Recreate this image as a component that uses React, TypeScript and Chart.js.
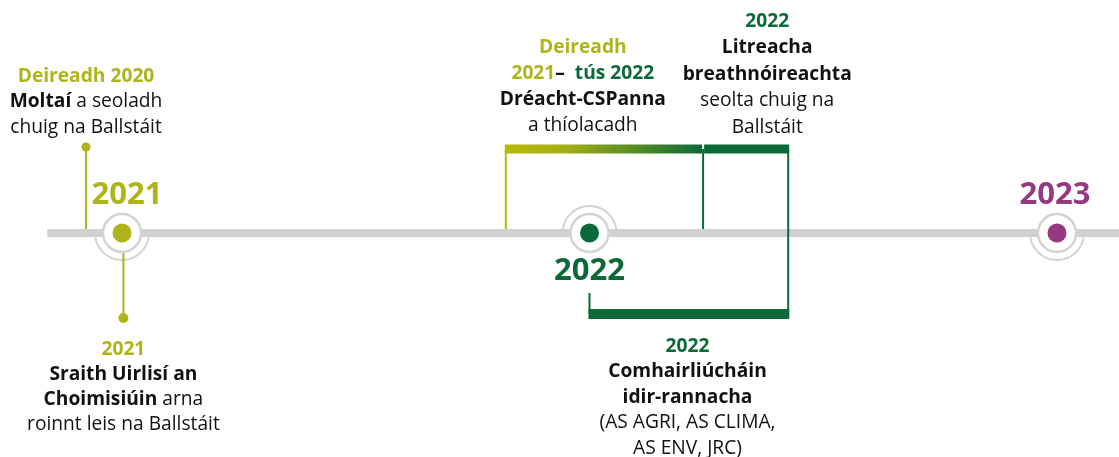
import React, { useEffect, useRef } from 'react';
import { Chart, registerables } from 'chart.js';

Chart.register(...registerables);

// ---------- colours ----------
const OLIVE = '#aeb51a';
const GREEN = '#0b6a37';
const PURPLE = '#963a80';
const GRAY = '#d1d1d1';
const RING = '#d3d3d3';
const INK = '#111111';
const FONT = '"Open Sans", "Noto Sans", sans-serif';

// ---------- data ----------
// milestones on the timeline (years)
const milestoneYears = [2021, 2022, 2023];
const milestoneLabels = ['2021', '2022', '2023'];
const milestoneColors = [OLIVE, GREEN, PURPLE];
const haloSides = ['below', 'above', 'below'];

// timeline extent (fractional years)
const timelineStart = 2020.84;
const timelineEnd = 2023.3;

// events (fractional years)
const recommendationsDate = 2020.923; // end of 2020
const toolkitDate = 2021.003; // 2021
const draftStart = 2021.821; // end of 2021
const draftEnd = 2022.243; // start of 2022
const lettersDate = 2022.425; // 2022
const consultStart = 2022.0; // 2022
const consultEnd = 2022.425;

type Seg = { t: string; b?: boolean; c?: string };
type Line = Seg[];

const noteRecommendations: Line[] = [
  [{ t: 'Deireadh 2020', b: true, c: OLIVE }],
  [{ t: 'Moltaí', b: true }, { t: ' a seoladh' }],
  [{ t: 'chuig na Ballstáit' }],
];
const noteToolkit: Line[] = [
  [{ t: '2021', b: true, c: OLIVE }],
  [{ t: 'Sraith Uirlisí an', b: true }],
  [{ t: 'Choimisiúin', b: true }, { t: ' arna' }],
  [{ t: 'roinnt leis na Ballstáit' }],
];
const noteDraft: Line[] = [
  [{ t: 'Deireadh', b: true, c: OLIVE }],
  [{ t: '2021', b: true, c: OLIVE }, { t: '–  ', b: true }, { t: 'tús 2022', b: true, c: GREEN }],
  [{ t: 'Dréacht-CSPanna', b: true }],
  [{ t: 'a thíolacadh' }],
];
const noteLetters: Line[] = [
  [{ t: '2022', b: true, c: GREEN }],
  [{ t: 'Litreacha', b: true }],
  [{ t: 'breathnóireachta', b: true }],
  [{ t: 'seolta chuig na' }],
  [{ t: 'Ballstáit' }],
];
const noteConsult: Line[] = [
  [{ t: '2022', b: true, c: GREEN }],
  [{ t: 'Comhairliúcháin', b: true }],
  [{ t: 'idir-rannacha', b: true }],
  [{ t: '(AS AGRI, AS CLIMA,' }],
  [{ t: 'AS ENV, JRC)' }],
];

// ---------- layout (pixel-style offsets) ----------
const PX_PER_YEAR = 467.5;
const X_MIN = 2021 - 122 / PX_PER_YEAR;
const X_MAX = X_MIN + 1119 / PX_PER_YEAR;
const px = (n: number) => n / PX_PER_YEAR; // pixel offset in year units

const notePlacements = [
  { x: recommendationsDate, y: 156.5, lh: 25.5, lines: noteRecommendations },
  { x: toolkitDate, y: -116.5, lh: 25, lines: noteToolkit },
  { x: draftStart + px(77), y: 185.5, lh: 26, lines: noteDraft },
  { x: lettersDate - px(21), y: 211.5, lh: 26.5, lines: noteLetters },
  { x: consultStart + px(98), y: -113.5, lh: 25.5, lines: noteConsult },
];
const yearLabelOffsets = [5, 0, -2];

function fontFor(s: Seg, size: number) {
  return `${s.b ? 'bold ' : ''}${size}px ${FONT}`;
}

const haloPlugin = {
  id: 'halos',
  beforeDatasetsDraw(chart: any) {
    const { ctx, scales } = chart;
    ctx.save();
    ctx.strokeStyle = RING;
    ctx.lineWidth = 2;
    milestoneYears.forEach((yr, i) => {
      const cx = scales.x.getPixelForValue(yr);
      const cy = scales.y.getPixelForValue(0);
      ctx.beginPath();
      if (haloSides[i] === 'below') ctx.arc(cx, cy, 27, 0, Math.PI, false);
      else ctx.arc(cx, cy, 27, Math.PI, 2 * Math.PI, false);
      ctx.stroke();
    });
    ctx.restore();
  },
};

const textPlugin = {
  id: 'notes',
  afterDatasetsDraw(chart: any) {
    const { ctx, scales } = chart;
    ctx.save();
    ctx.textBaseline = 'middle';
    ctx.textAlign = 'left';
    const size = 19.2;
    notePlacements.forEach((n) => {
      const cx = scales.x.getPixelForValue(n.x);
      const y0 = scales.y.getPixelForValue(n.y);
      n.lines.forEach((line, i) => {
        const py = y0 + i * n.lh;
        const widths = line.map((s) => {
          ctx.font = fontFor(s, size);
          return ctx.measureText(s.t).width;
        });
        const total = widths.reduce((a, b) => a + b, 0);
        let xx = cx - total / 2;
        line.forEach((s, j) => {
          ctx.font = fontFor(s, size);
          ctx.fillStyle = s.c || INK;
          ctx.fillText(s.t, xx, py);
          xx += widths[j];
        });
      });
    });
    // big year labels
    ctx.textAlign = 'center';
    ctx.font = `bold 31px ${FONT}`;
    milestoneYears.forEach((yr, i) => {
      const cx = scales.x.getPixelForValue(yr) + yearLabelOffsets[i];
      const cy = scales.y.getPixelForValue(haloSides[i] === 'below' ? 37.5 : -38.5);
      ctx.fillStyle = milestoneColors[i];
      ctx.fillText(milestoneLabels[i], cx, cy);
    });
    ctx.restore();
  },
};

function seg(points: { x: number; y: number }[], color: any, width: number, order: number, radius: number[] = [0, 0]) {
  return {
    data: points,
    showLine: true,
    borderColor: color,
    borderWidth: width,
    borderCapStyle: 'butt',
    pointRadius: radius,
    pointBackgroundColor: typeof color === 'string' ? color : GREEN,
    pointBorderWidth: 0,
    order,
    clip: false,
  } as any;
}

export default function App() {
  const ref = useRef<HTMLCanvasElement>(null);
  useEffect(() => {
    if (!ref.current) return;
    const gradientColor = (ctx: any) => {
      const chart = ctx.chart;
      if (!chart.chartArea) return OLIVE;
      const x0 = chart.scales.x.getPixelForValue(draftStart);
      const x1 = chart.scales.x.getPixelForValue(draftEnd);
      const g = chart.ctx.createLinearGradient(x0, 0, x1, 0);
      g.addColorStop(0, '#b7ba08');
      g.addColorStop(0.3, '#a4ae14');
      g.addColorStop(1, GREEN);
      return g;
    };
    const chart = new Chart(ref.current, {
      type: 'scatter',
      data: {
        datasets: [
          // timeline
          seg([{ x: timelineStart, y: 0 }, { x: timelineEnd, y: 0 }], GRAY, 8, 100),
          // connectors
          seg([{ x: recommendationsDate, y: 86 }, { x: recommendationsDate, y: 4 }], OLIVE, 2, 50, [4.5, 0]),
          seg([{ x: toolkitDate, y: -10 }, { x: toolkitDate, y: -85 }], OLIVE, 2, 50, [0, 5]),
          seg([{ x: draftStart, y: 84 }, { x: draftStart, y: 4 }], '#b7ba08', 2, 50),
          seg([{ x: draftEnd, y: 84 }, { x: draftEnd, y: 4 }], GREEN, 2, 50),
          seg([{ x: lettersDate, y: 84 }, { x: lettersDate, y: -85 }], GREEN, 2, 50),
          seg([{ x: consultStart, y: -60 }, { x: consultStart, y: -81 }], GREEN, 2, 50),
          // brackets
          seg([{ x: draftStart - px(1), y: 84 }, { x: draftEnd - px(1), y: 84 }], gradientColor, 9, 40),
          seg([{ x: draftEnd + px(1), y: 84 }, { x: lettersDate + px(1), y: 84 }], GREEN, 9, 40),
          seg([{ x: consultStart - px(1), y: -81 }, { x: consultEnd + px(1), y: -81 }], GREEN, 10, 40),
          // rings
          {
            data: milestoneYears.map((x) => ({ x, y: 0 })),
            pointRadius: 19,
            pointBackgroundColor: '#ffffff',
            pointBorderColor: RING,
            pointBorderWidth: 2.5,
            order: 20,
            clip: false,
          } as any,
          // dots
          {
            data: milestoneYears.map((x) => ({ x, y: 0 })),
            pointRadius: 9.5,
            pointBackgroundColor: milestoneColors,
            pointBorderWidth: 0,
            order: 10,
            clip: false,
          } as any,
        ],
      },
      options: {
        animation: false,
        responsive: false,
        devicePixelRatio: 1,
        layout: { padding: 0, autoPadding: false },
        events: [],
        scales: {
          x: { type: 'linear', min: X_MIN, max: X_MAX, display: false },
          y: { type: 'linear', min: -224, max: 233, display: false },
        },
        plugins: { legend: { display: false }, tooltip: { enabled: false } },
      },
      plugins: [haloPlugin, textPlugin],
    });
    return () => chart.destroy();
  }, []);
  return (
    <canvas
      ref={ref}
      width={1119}
      height={457}
      style={{ position: 'absolute', left: 0, top: 0, width: 1119, height: 457 }}
    />
  );
}
